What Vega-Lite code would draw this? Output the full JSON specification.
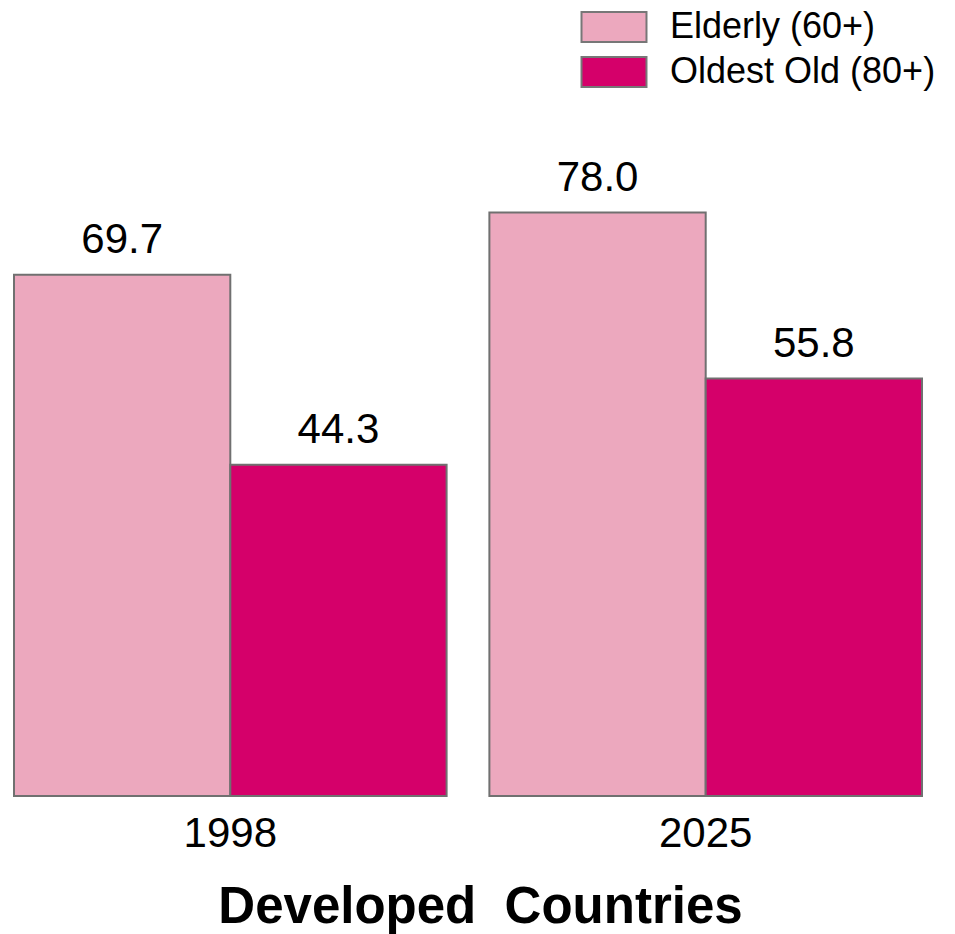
{
  "$schema": "https://vega.github.io/schema/vega-lite/v6.json",
  "width": 908,
  "height": 748,
  "autosize": {"type": "none"},
  "padding": {"left": 14, "top": 48, "right": 33, "bottom": 138},
  "background": "#ffffff",
  "config": {
    "view": {"stroke": null},
    "font": "Liberation Sans"
  },
  "data": {
    "values": [
      {"year": "1998", "group": "Elderly (60+)", "value": 69.7},
      {"year": "1998", "group": "Oldest Old (80+)", "value": 44.3},
      {"year": "2025", "group": "Elderly (60+)", "value": 78.0},
      {"year": "2025", "group": "Oldest Old (80+)", "value": 55.8}
    ]
  },
  "encoding": {
    "x": {
      "field": "year",
      "type": "nominal",
      "scale": {"paddingInner": 0.09, "paddingOuter": 0},
      "axis": {
        "title": "Developed\u00a0 Countries",
        "titleFont": "Liberation Sans",
        "titleFontSize": 51,
        "titleFontWeight": "bold",
        "titleColor": "#000000",
        "titleBaseline": "alphabetic",
        "titleX": 466,
        "titleY": 126,
        "labelFont": "Liberation Sans",
        "labelFontSize": 42,
        "labelColor": "#000000",
        "labelAngle": 0,
        "labelPadding": 17,
        "domain": false,
        "ticks": false
      }
    },
    "xOffset": {"field": "group", "type": "nominal", "sort": ["Elderly (60+)", "Oldest Old (80+)"]},
    "y": {
      "field": "value",
      "type": "quantitative",
      "scale": {"domain": [0, 100]},
      "axis": null
    }
  },
  "layer": [
    {
      "mark": {"type": "bar", "stroke": "#707070", "strokeWidth": 2},
      "encoding": {
        "color": {
          "field": "group",
          "type": "nominal",
          "sort": ["Elderly (60+)", "Oldest Old (80+)"],
          "scale": {"domain": ["Elderly (60+)", "Oldest Old (80+)"], "range": ["#ECA8BE", "#D5006A"]},
          "legend": {
            "orient": "none",
            "legendX": 582,
            "legendY": -39,
            "title": null,
            "padding": 0,
            "symbolType": "M-2,-0.92H2V0.92H-2Z",
            "symbolSize": 1056,
            "symbolStrokeColor": "#777777",
            "symbolStrokeWidth": 2,
            "symbolOpacity": 1,
            "labelFont": "Liberation Sans",
            "labelFontSize": 36,
            "labelColor": "#000000",
            "labelOffset": 38,
            "labelLimit": 400,
            "rowPadding": 7
          }
        }
      }
    },
    {
      "mark": {"type": "text", "baseline": "alphabetic", "dy": -22, "font": "Liberation Sans", "fontSize": 42, "color": "#000000"},
      "encoding": {
        "text": {"field": "value", "type": "quantitative", "format": ".1f"}
      }
    }
  ]
}
